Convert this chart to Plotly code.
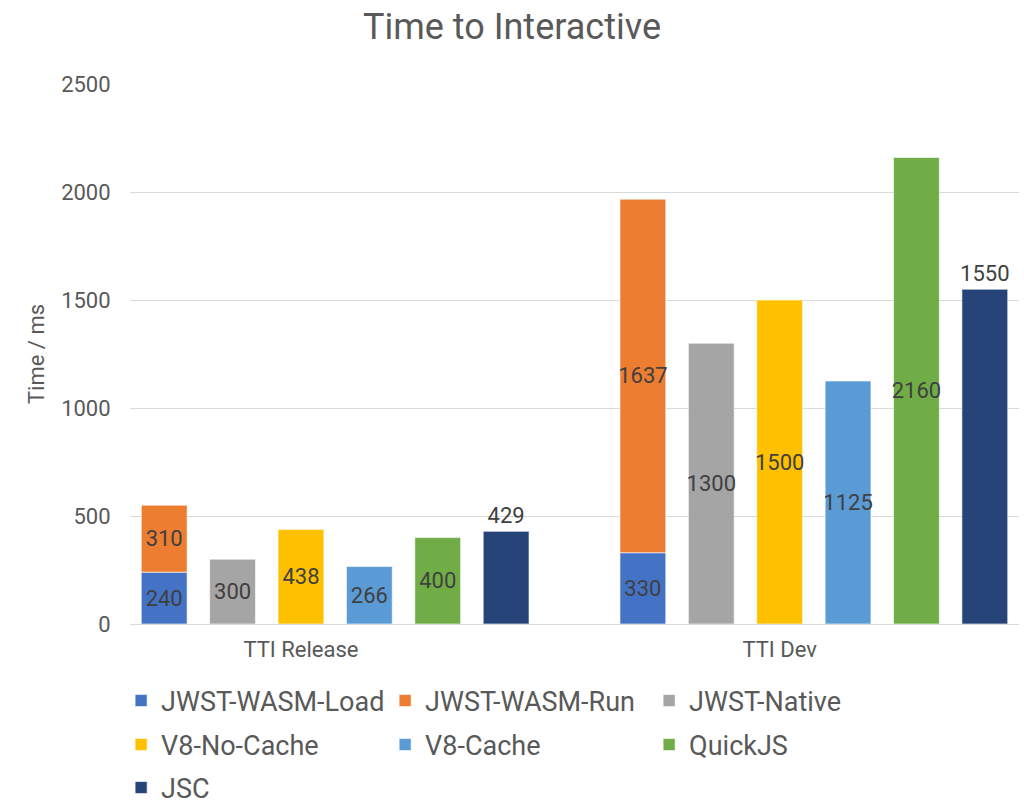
import plotly.graph_objects as go

categories = ["TTI Release", "TTI Dev"]
series_names = ["JWST-WASM-Load", "JWST-WASM-Run", "JWST-Native",
                "V8-No-Cache", "V8-Cache", "QuickJS", "JSC"]
values = {
    "JWST-WASM-Load": [240, 330],
    "JWST-WASM-Run": [310, 1637],
    "JWST-Native": [300, 1300],
    "V8-No-Cache": [438, 1500],
    "V8-Cache": [266, 1125],
    "QuickJS": [400, 2160],
    "JSC": [429, 1550],
}
colors = {
    "JWST-WASM-Load": "#4472C4",
    "JWST-WASM-Run": "#ED7D31",
    "JWST-Native": "#A5A5A5",
    "V8-No-Cache": "#FFC000",
    "V8-Cache": "#5B9BD5",
    "QuickJS": "#70AD47",
    "JSC": "#264478",
}
# slot within each category cluster (Load and Run are stacked in one slot)
slots = {"JWST-WASM-Load": 0, "JWST-WASM-Run": 0, "JWST-Native": 1,
         "V8-No-Cache": 2, "V8-Cache": 3, "QuickJS": 4, "JSC": 5}
label_pos = {"JSC": "outside"}
group_stride = 7
yticks = [0, 500, 1000, 1500, 2000, 2500]
legend_rows = ["legend", "legend", "legend",
               "legend2", "legend2", "legend2", "legend3"]

FONT = "Roboto, 'Open Sans', sans-serif"
GREY = "#595959"

fig = go.Figure()
for i, name in enumerate(series_names):
    xs = [g * group_stride + slots[name] for g in range(len(categories))]
    fig.add_trace(go.Bar(
        x=xs, y=values[name], name=name, width=0.67,
        legend=legend_rows[i],
        marker=dict(color=colors[name], line=dict(color="rgba(255,255,255,0.6)", width=1)),
        text=[str(v) for v in values[name]],
        textposition=label_pos.get(name, "inside"),
        insidetextanchor="middle",
        textangle=0,
        textfont=dict(family=FONT, size=22, color="#404040"),
        outsidetextfont=dict(family=FONT, size=22, color="#404040"),
        cliponaxis=False,
    ))

PLOT_TOP, PLOT_BOTTOM = 84, 624
PLOT_H = PLOT_BOTTOM - PLOT_TOP


def row_y(px):
    return (PLOT_BOTTOM - px) / PLOT_H


leg_common = dict(orientation="h", x=-0.01, xanchor="left", yanchor="middle",
                  traceorder="normal", entrywidth=219,
                  entrywidthmode="pixels", itemwidth=30,
                  bgcolor="rgba(0,0,0,0)",
                  font=dict(family=FONT, size=27, color=GREY))

fig.update_layout(
    width=1024, height=806,
    barmode="relative",
    paper_bgcolor="white", plot_bgcolor="white",
    margin=dict(l=130, r=5, t=PLOT_TOP, b=806 - PLOT_BOTTOM, autoexpand=False),
    font=dict(family=FONT, color=GREY),
    uniformtext=dict(minsize=22, mode="show"),
    title=dict(text="Time to Interactive", x=0.5, xanchor="center",
               y=1 - 26 / 806, yanchor="middle", yref="container",
               font=dict(family=FONT, size=36, color=GREY)),
    xaxis=dict(range=[-0.5, 12.5],
               tickvals=[g * group_stride + 2 for g in range(len(categories))],
               ticktext=categories, showgrid=False, zeroline=False,
               showline=False, ticks="outside", ticklen=6,
               tickcolor="rgba(0,0,0,0)",
               tickfont=dict(family=FONT, size=22, color=GREY)),
    yaxis=dict(range=[0, 2500], tickvals=yticks, showgrid=True,
               gridcolor="#D9D9D9", gridwidth=1.3, zeroline=True,
               zerolinecolor="#D9D9D9", zerolinewidth=1.3,
               ticks="outside", ticklen=14, tickcolor="rgba(0,0,0,0)",
               tickfont=dict(family=FONT, size=22, color=GREY)),
    legend=dict(leg_common, y=row_y(701)),
    legend2=dict(leg_common, y=row_y(745)),
    legend3=dict(leg_common, y=row_y(788)),
)
fig.update_yaxes(title=dict(text="Time / ms", standoff=10,
                            font=dict(family=FONT, size=22, color=GREY)))

fig.write_html("out.html")
